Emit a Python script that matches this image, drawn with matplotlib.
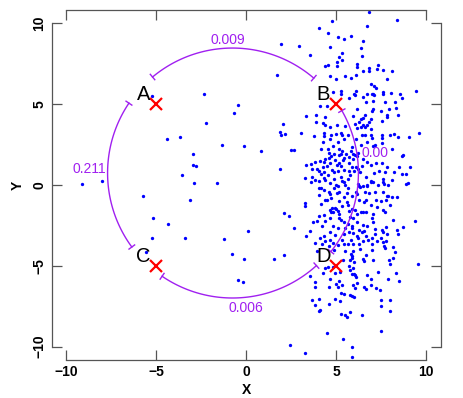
import matplotlib
matplotlib.use('Agg')
import matplotlib.pyplot as plt
import numpy as np

plt.rcParams['font.family'] = ['Liberation Sans', 'DejaVu Sans']

x_pts = [
    # sparse, left part
    -5.25, -2.34, -2.23, -4.38, -3.68, -1.34, -2.97, -2.97, -2.79, -3.58,
    -2.88, -1.62, -9.12, -8.03, -5.73, -3.11, -0.46, -0.69, -0.12, 0.84,
    -5.19, -4.34, -5.23, -3.38, -1.22, -5.58, 0.08, -0.14, -0.46, -0.19, -0.79,
    # cloud, top
    4.75, 4.03, 4.54, 5.84, 5.12, 5.43, 1.92, 2.92, 4.67, 5.34,
    3.54, 5.17, 5.34, 5.03, 4.38, 4.56, 5.04, 1.71, 4.66, 4.97,
    5.47, 5.84, 4.81, 5.27, 5.27,
    6.82, 8.38, 6.71, 6.47, 6.39, 6.42, 6.14, 6.14, 7.32, 6.84,
    6.82, 6.49, 7.28, 7.62, 8.12, 6.10, 7.82, 6.92, 7.12, 7.21,
    6.12, 7.62, 7.62, 8.06, 9.45, 6.69, 7.01, 7.06, 8.53, 5.99,
    # cloud, upper middle (left half)
    5.73, 4.12, 4.51, 3.32, 3.88, 4.36, 3.89, 4.27, 4.39, 2.04,
    4.64, 5.06, 5.47, 1.88, 1.92, 3.03, 2.14, 4.34, 4.34, 4.73,
    3.78, 4.97, 5.28, 5.32, 4.67, 4.27, 5.08, 5.45, 5.66, 2.64,
    2.51, 4.82, 4.17, 4.54, 5.14, 5.32, 4.58, 4.88, 5.14, 5.27,
    5.56, 5.81, 4.71, 5.73, 4.39, 4.58, 4.95, 5.36, 5.45, 4.12,
    4.31, 4.64, 5.16, 5.71, 3.32, 3.58, 3.84, 4.49, 5.06, 5.28,
    4.25, 5.88, 3.66, 1.88, 3.92, 4.03, 4.77, 4.86, 5.42, 5.69,
    4.34, 5.10, 4.14, 4.54, 5.75, 3.25, 3.66, 4.31, 4.39, 4.86,
    5.28, 5.64, 4.03, 3.84, 5.32,
    # cloud, upper middle (right half)
    6.03, 6.47, 7.10, 8.67, 6.66, 7.06, 7.71, 8.27, 7.95, 7.04,
    6.97, 7.47, 8.31, 6.14, 5.93, 6.58, 6.51, 6.39, 6.92, 6.84,
    7.82, 7.84, 8.45, 7.54, 6.28, 6.47, 6.69, 6.62, 6.38, 6.03,
    6.17, 6.92, 9.03, 9.58, 6.45, 6.62, 6.95, 6.99, 7.56, 7.54,
    7.97, 8.19, 8.42, 6.69, 6.10, 6.39, 7.03, 7.17, 7.56, 5.86,
    8.08, 5.95, 6.04, 6.14, 6.19, 8.73, 8.64, 5.92, 6.51, 6.69,
    6.95, 7.21, 7.54, 6.43, 6.08, 6.21, 7.81, 8.51, 9.10, 5.99,
    6.32, 7.10, 7.36, 7.73, 8.23, 8.64, 8.88, 6.66, 7.62, 8.08, 6.95,
    # cloud, lower middle (left half)
    3.62, 4.67, 4.99, 5.10, 5.42, 5.47, 5.66, 4.06, 4.17, 4.86,
    4.31, 4.58, 4.67, 5.04, 5.14, 5.60, 4.06, 5.42, 4.36, 4.49,
    4.73, 5.14, 3.25, 3.28, 4.17, 4.77, 4.67, 4.92, 4.99, 5.10,
    5.32, 5.60, 5.66, 4.71, 4.84, 5.17, 5.73, 2.08, 2.36, 4.31,
    4.06, 4.67, 5.17, 5.28, 5.78, 3.69, 3.95, 4.36, 5.42, 4.21,
    4.82, 5.66, 2.66, 3.54, 4.67, 5.10, 5.47, 5.88, 3.32, 4.32,
    4.95, 5.42, 5.73, 4.12, 4.67, 4.39, 5.32, 5.84, 4.81, 3.84,
    4.21, 5.42, 4.58, 5.10, 5.66, 3.95, 4.86, 5.51, 5.82, 1.54,
    2.08, 5.38, 5.78, 5.69,
    # cloud, lower middle (right half)
    6.23, 6.28, 6.32, 6.51, 6.69, 6.73, 6.92, 7.06, 7.34, 7.58,
    7.66, 7.89, 8.88, 9.01, 6.10, 6.14, 6.60, 6.84, 7.16, 7.58,
    7.81, 7.89, 8.08, 8.36, 5.86, 6.28, 6.66, 6.54, 7.21, 7.47,
    7.77, 7.99, 6.92, 7.28, 5.86, 6.04, 6.38, 6.51, 6.66, 7.06,
    7.62, 7.69, 5.95, 6.14, 6.97, 7.03, 8.14, 9.38, 6.17, 6.51,
    6.69, 5.86, 6.28, 6.42, 6.54, 5.95, 7.16, 7.54, 7.62, 7.77,
    8.36, 8.69, 8.42, 7.16, 7.81, 6.14, 6.23, 6.66, 6.97, 7.47,
    6.47, 6.78, 7.25, 7.62, 7.77, 5.95, 6.28, 6.97, 7.67, 7.71,
    8.14, 5.92, 6.32, 6.97, 8.27, 5.86, 5.86, 6.47, 6.54, 6.66,
    7.06, 7.95, 8.17, 5.99, 7.99, 9.56,
    # cloud, bottom
    4.36, 4.54, 4.81, 4.27, 4.92, 5.23, 5.78, 5.89, 3.56, 4.67,
    5.17, 4.99, 3.81, 5.32, 3.81, 4.58, 5.92, 5.10, 5.28, 5.42,
    5.78, 5.88, 3.66, 4.06, 4.95, 5.23, 3.81, 4.58, 4.12, 4.06,
    5.28, 5.51, 5.58, 5.75, 4.49, 5.39, 2.45, 3.28, 5.88,
    5.93, 5.99, 6.06, 6.10, 6.73, 7.31, 8.34, 6.95, 7.89, 8.51,
    6.17, 6.95, 6.03, 6.56, 6.64, 7.19, 7.43, 5.99, 7.49, 7.97,
    7.47, 8.01, 6.45, 7.51, 5.88,
]
y_pts = [
    # sparse, left part
    5.52, 5.61, 3.82, 2.86, 2.97, 2.49, 1.90, 1.22, 1.19, 0.60,
    0.12, 0.12, 0.08, 0.27, -0.66, -0.91, 4.93, 4.47, 2.43, 2.08,
    -2.06, -2.41, -3.26, -3.28, -3.36, -4.12, -2.83, -4.59, -5.89, -5.98, -4.27,
    # cloud, top
    10.12, 9.73, 9.40, 9.23, 9.13, 9.01, 8.72, 8.61, 8.53, 8.14,
    8.02, 7.90, 7.75, 7.62, 7.38, 7.42, 7.36, 6.78, 6.72, 6.54,
    6.72, 6.60, 5.77, 5.81, 5.65,
    10.7, 10.22, 9.85, 8.90, 8.45, 8.00, 7.50, 7.32, 7.40, 7.22,
    7.05, 7.07, 7.15, 7.09, 7.07, 6.80, 6.57, 6.23, 6.10, 6.02,
    5.83, 5.75, 5.65, 5.69, 5.81, 5.65, 5.63, 5.61, 5.61, 5.61,
    # cloud, upper middle (left half)
    5.38, 4.87, 4.89, 4.25, 4.31, 4.21, 3.88, 3.85, 3.73, 3.75,
    3.59, 3.73, 3.63, 3.26, 3.07, 3.23, 3.17, 3.20, 3.01, 3.11,
    3.01, 3.14, 3.23, 3.09, 2.83, 2.66, 2.64, 2.86, 3.11, 2.16,
    2.15, 2.41, 2.24, 2.21, 2.21, 2.12, 1.98, 1.92, 1.84, 1.94,
    1.94, 2.08, 1.77, 1.73, 1.61, 1.67, 1.55, 1.56, 1.67, 1.47,
    1.42, 1.38, 1.36, 1.38, 1.26, 1.32, 1.42, 1.17, 1.24, 1.17,
    1.11, 1.11, 1.01, 0.97, 0.97, 0.88, 0.95, 0.80, 0.95, 0.87,
    0.80, 0.85, 0.70, 0.64, 0.64, 0.43, 0.49, 0.43, 0.29, 0.39,
    0.48, 0.35, 0.23, 0.29, 0.25,
    # cloud, upper middle (right half)
    5.55, 5.42, 5.55, 5.38, 5.13, 5.21, 5.13, 5.13, 4.72, 4.68,
    4.56, 4.56, 4.76, 4.68, 4.27, 4.31, 4.14, 4.06, 4.06, 3.90,
    4.31, 4.22, 4.31, 3.98, 3.90, 3.73, 3.69, 3.61, 3.61, 3.77,
    3.52, 3.48, 2.99, 3.23, 3.11, 3.11, 3.07, 2.91, 3.11, 2.91,
    3.07, 3.15, 2.95, 2.66, 2.83, 2.49, 2.41, 2.46, 2.62, 2.35,
    2.24, 1.92, 1.84, 1.79, 2.00, 1.87, 1.79, 1.59, 1.63, 1.42,
    1.26, 1.38, 1.34, 1.17, 1.13, 0.97, 1.11, 1.13, 1.09, 0.85,
    0.80, 0.72, 0.85, 0.80, 0.80, 0.70, 0.70, 0.51, 0.35, 0.29, 0.23,
    # cloud, lower middle (left half)
    0.17, 0.12, 0.00, -0.04, 0.17, 0.00, -0.20, -0.17, -0.17, -0.20,
    -0.33, -0.45, -0.56, -0.49, -0.45, -0.49, -0.62, -0.76, -0.91, -0.95,
    -0.82, -0.97, -1.11, -1.28, -1.16, -1.44, -1.53, -1.40, -1.48, -1.61,
    -1.32, -1.07, -1.24, -1.69, -1.69, -1.77, -1.61, -1.71, -1.94, -1.86,
    -1.94, -2.06, -2.06, -2.18, -1.98, -2.31, -2.23, -2.21, -2.27, -2.52,
    -2.52, -2.41, -2.68, -2.83, -2.89, -2.68, -2.68, -2.55, -3.14, -3.17,
    -3.09, -3.03, -2.92, -3.30, -3.40, -3.44, -3.38, -3.38, -3.59, -3.59,
    -3.65, -3.67, -3.75, -3.71, -3.67, -4.10, -4.00, -4.06, -4.27, -4.58,
    -4.33, -4.62, -4.62, -5.03,
    # cloud, lower middle (right half)
    0.08, -0.04, -0.12, -0.08, 0.00, -0.08, 0.17, 0.20, 0.00, 0.20,
    0.08, 0.00, 0.04, 0.12, -0.45, -0.56, -0.41, -0.49, -0.45, -0.41,
    -0.66, -0.70, -0.76, -0.76, -0.70, -0.91, -0.91, -1.07, -0.95, -0.97,
    -0.91, -1.24, -1.24, -1.36, -1.48, -1.53, -1.69, -1.65, -1.69, -1.77,
    -1.53, -1.65, -2.02, -1.77, -2.06, -2.27, -2.18, -2.23, -2.31, -2.47,
    -2.55, -2.64, -2.76, -2.89, -2.84, -2.97, -2.72, -2.76, -2.89, -2.62,
    -2.80, -2.60, -3.01, -3.05, -3.03, -3.14, -3.26, -3.14, -3.30, -3.26,
    -3.46, -3.42, -3.46, -3.54, -3.44, -3.63, -3.67, -3.63, -3.75, -3.91,
    -3.83, -4.08, -3.96, -4.00, -4.16, -4.37, -4.50, -4.58, -4.70, -4.33,
    -4.66, -4.62, -4.50, -4.74, -4.89, -4.90,
    # cloud, bottom
    -5.13, -5.05, -5.05, -5.46, -5.46, -5.38, -5.26, -5.50, -5.63, -5.79,
    -5.94, -6.12, -6.00, -6.20, -6.33, -6.29, -6.17, -6.29, -6.66, -6.74,
    -6.78, -6.86, -7.11, -7.03, -7.03, -7.15, -7.40, -7.36, -7.73, -7.81,
    -8.00, -8.06, -8.14, -7.85, -9.13, -9.54, -9.91, -10.37, -10.62,
    -5.13, -5.50, -5.55, -5.71, -5.58, -5.38, -5.42, -5.83, -5.79, -5.92,
    -6.08, -6.17, -6.37, -6.33, -6.45, -6.39, -6.49, -6.93, -7.13, -7.13,
    -7.46, -7.77, -8.02, -9.01, -10.04,
]
assert len(x_pts) == len(y_pts), (len(x_pts), len(y_pts))

# the four reference sites
site_lab = ['A', 'B', 'C', 'D']
site_x = [-5, 5, -5, 5]
site_y = [5, 5, -5, -5]

# arcs linking neighbouring sites (angles in degrees) and their p-values
arc_from = [49.4, 146.0, 235.7, -38.6]
arc_to = [129.8, 216.3, 312.2, 29.7]
arc_r = [1.0, 1.0, 1.0, 1.008]
arc_lab = ['0.009', '0.211', '0.006', '0.00']
arc_lab_x = [-1.01, -8.72, -0.04, 7.18]
arc_lab_y = [8.97, 0.97, -7.63, 1.96]
cx, cy, rx, ry = -0.76, 0.74, 6.94, 7.73

purple = '#A020F0'
axcol = '#555555'

fig = plt.figure(figsize=(4.64, 3.98), dpi=100)
ax = fig.add_axes([0.1116, 0.0965, 0.8379, 0.8774])
ax.set_xlim(-10.8, 10.8)
ax.set_ylim(-10.8, 10.8)

ax.plot(x_pts, y_pts, 'o', color='blue', ms=2.4, mew=0, zorder=2)

for t0, t1, rs, lab, lx, ly in zip(arc_from, arc_to, arc_r, arc_lab, arc_lab_x, arc_lab_y):
    t = np.radians(np.linspace(t0, t1, 100))
    ax.plot(cx + rs * rx * np.cos(t), cy + rs * ry * np.sin(t), color=purple, lw=1.0, zorder=3)
    # flat arrow heads at both ends
    for te in np.radians([t0, t1]):
        f = np.array([rs - 0.028, rs + 0.028])
        ax.plot(cx + f * rx * np.cos(te), cy + f * ry * np.sin(te), color=purple, lw=1.0, zorder=3)
    ax.text(lx, ly, lab, color=purple, fontsize=10, ha='center', va='center', zorder=4)

ax.plot(site_x, site_y, 'x', color='red', ms=8, mew=1.6, zorder=5)
for lab, sx, sy in zip(site_lab, site_x, site_y):
    ax.text(sx - 0.72, sy + 0.6, lab, fontsize=14.5, ha='center', va='center', zorder=5)

# R-like box: four separate axes with inward ticks
for side in ['left', 'right', 'top', 'bottom']:
    ax.spines[side].set_bounds(-10, 10)
    ax.spines[side].set_color(axcol)
    ax.spines[side].set_linewidth(0.9)
ticks = [-10, -5, 0, 5, 10]
ax.set_xticks(ticks)
ax.set_yticks(ticks)
ax.tick_params(direction='in', length=7.5, width=0.9, color=axcol, top=True, right=True,
               labeltop=False, labelright=False, labelsize=10, pad=4)
for lab in ax.get_xticklabels() + ax.get_yticklabels():
    lab.set_fontweight('bold')
for lab in ax.get_yticklabels():
    lab.set_rotation(90)
    lab.set_va('center')

ax.set_xlabel('X', fontsize=10, fontweight='bold')
ax.set_ylabel('Y', fontsize=10, fontweight='bold')
ax.xaxis.set_label_coords(0.5, -0.067)
ax.yaxis.set_label_coords(-0.069, 0.5)

fig.savefig('out.png', dpi=100)
